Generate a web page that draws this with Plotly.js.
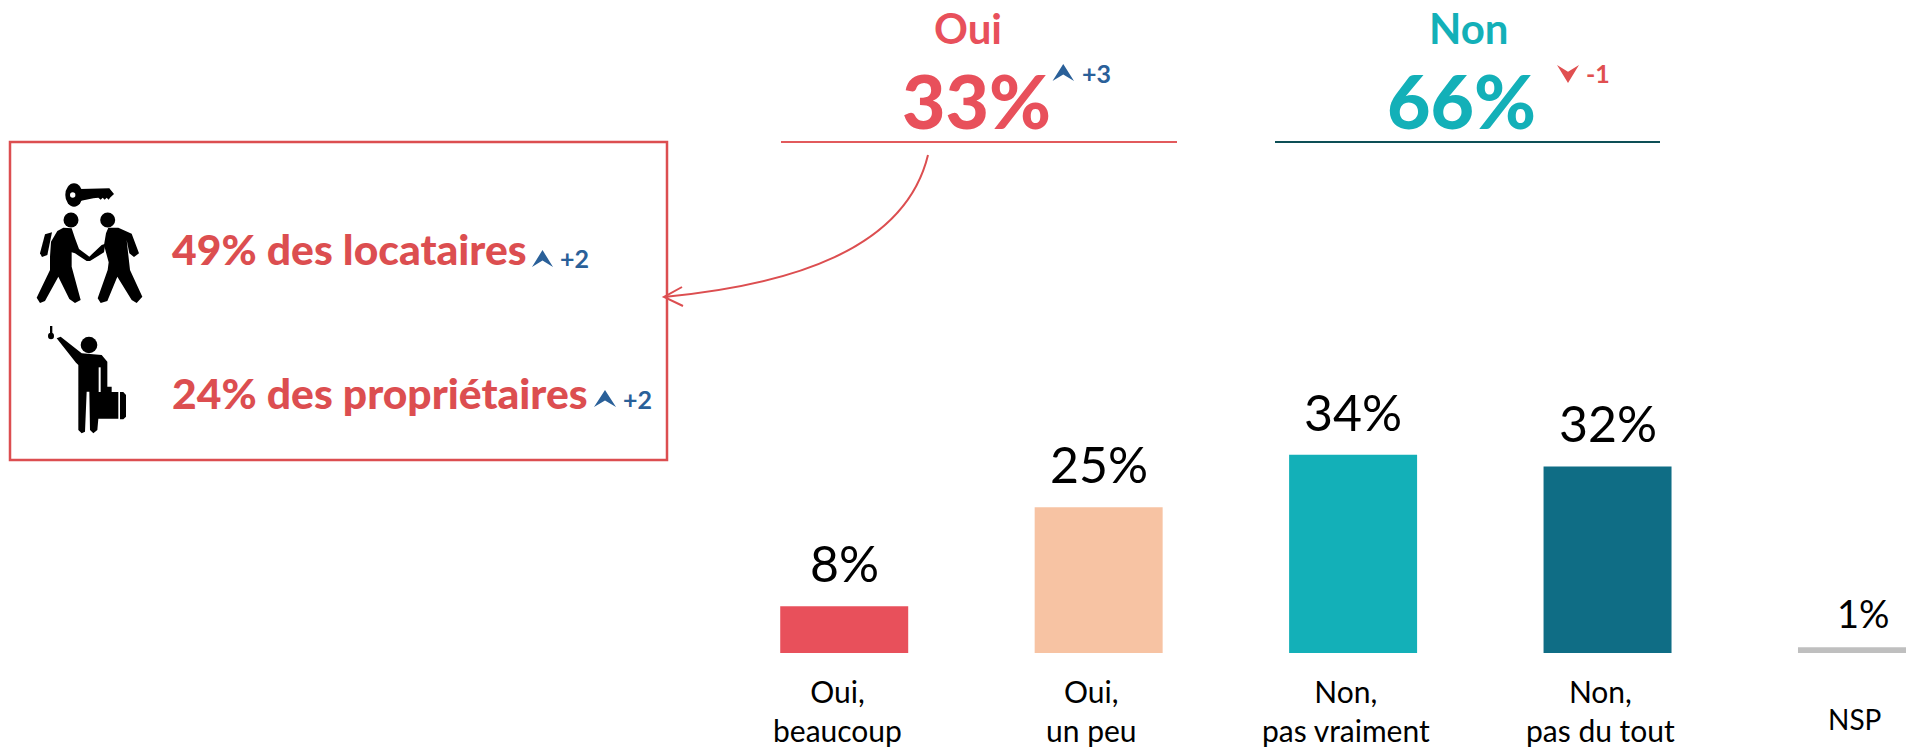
<!DOCTYPE html>
<html><head><meta charset="utf-8">
<script src="https://cdn.plot.ly/plotly-3.0.1.min.js"></script>
<style>html,body{margin:0;padding:0;background:#fff;overflow:hidden}#c{width:1906px;height:748px}</style>
</head><body><div id="c"></div>
<script>
const categories = ["Oui, beaucoup","Oui, un peu","Non, pas vraiment","Non, pas du tout","NSP"];
const categoryLabels = ["Oui,<br>beaucoup","Oui,<br>un peu","Non,<br>pas vraiment","Non,<br>pas du tout","NSP"];
const values = [8,25,34,32,1];
const valueLabels = ["8%","25%","34%","32%","1%"];
const barColors = ["#e8505b","#f7c3a3","#13b0b8","#0f6d85","#bfbfbf"];

const W=1906,H=748,L=717,BOT=653,PW=W-L;
const FONT="Lato, 'Open Sans', sans-serif";
const RED="#e8505b",TEAL="#13b0b8",BOXRED="#dc4e50",BLUE="#2a6099";
const px=x=>(x-L)/PW, py=y=>1-y/BOT;

// convert a path given in a local grid (origin ox,oy; grid scale s) to paper coordinates
function pth(d,ox,oy,s){
  return d.replace(/(-?[\d.]+)[ ,](-?[\d.]+)/g,(m,a,b)=>px(ox+a/s)+","+py(oy+b/s));
}
const shapes=[];
function fill(d,c,ox=0,oy=0,s=1){shapes.push({type:"path",xref:"paper",yref:"paper",path:pth(d,ox,oy,s),fillcolor:c,line:{width:0},layer:"above"});}
function stroke(d,c,w,ox=0,oy=0,s=1){shapes.push({type:"path",xref:"paper",yref:"paper",path:pth(d,ox,oy,s),fillcolor:"rgba(0,0,0,0)",line:{color:c,width:w},layer:"above"});}
function ell(cx,cy,rx,ry,c){shapes.push({type:"circle",xref:"paper",yref:"paper",x0:px(cx-rx),x1:px(cx+rx),y0:py(cy+ry),y1:py(cy-ry),fillcolor:c,line:{width:0},layer:"above"});}
function up(x0,x1,y0,y1,c){const m=(x0+x1)/2;fill(`M${m},${y0} L${x0},${y1} L${m},${y0+(y1-y0)*0.62} L${x1},${y1} Z`,c);}
function down(x0,x1,y0,y1,c){const m=(x0+x1)/2;fill(`M${m},${y1} L${x0},${y0} L${m},${y0+(y1-y0)*0.38} L${x1},${y0} Z`,c);}

// underlines, box, connector
stroke("M781,142 L1177,142","#e25a5c",2);
stroke("M1275,142 L1660,142","#0d4f56",2);
stroke("M10,142 L667,142 L667,460 L10,460 Z",BOXRED,2.5);
stroke("M928,155 C905,250 790,285 664,297",BOXRED,2);
stroke("M682,287 L664,297 L683,306",BOXRED,2);

// trend chevrons
up(1052.5,1074,64,81,BLUE);
down(1557,1579,65,83,"#e04f50");
up(532,553,250,267,BLUE);
up(594,616,390,407,BLUE);

// tenants icon
const a=[30,175,3];
ell(74,195,8.7,11.7,"#000");ell(72.7,195,2.7,2.7,"#fff");
fill("M150,42 L238,40 L252,57 L240,68 L236,74 L230,68 L224,74 L218,68 L212,74 L205,68 L190,70 L150,78 Z","#000",...a);
ell(71,220,7.5,7.5,"#000");ell(107.7,220,7.5,7.5,"#000");
fill("M100,158 L125,160 L135,190 L147,222 L178,245 L215,210 L226,206 L222,232 L180,258 L170,258 L135,235 L125,232 L125,275 L152,375 L135,384 L118,372 L85,305 L45,378 L30,384 L20,368 L60,285 L60,245 L63,200 L82,168 Z","#000",...a);
fill("M45,178 L66,172 L52,240 L36,246 L30,235 Z","#000",...a);
fill("M235,158 L265,158 L305,176 L327,235 L312,246 L298,235 L290,195 L300,285 L337,365 L320,384 L305,375 L262,305 L232,378 L212,384 L203,370 L233,285 L236,262 L222,210 L228,175 Z","#000",...a);

// owners icon
const b=[40,320,3];
ell(51,336,3,3.2,"#000");
fill("M30,18 L37,18 L37,42 L30,42 Z","#000",...b);
ell(89,345,8.3,8.3,"#000");
fill("M50,55 L62,50 L125,100 L185,105 L202,125 L202,200 L215,200 L215,216 L235,216 L235,296 L175,296 L172,330 L160,340 L150,330 L148,215 L140,215 L135,335 L125,340 L115,330 L115,135 L108,128 Z","#000",...b);
fill("M240,216 L250,216 L258,225 L258,290 L250,298 L240,298 Z","#000",...b);
fill("M176,142 L182,142 L182,216 L176,216 Z","#fff",...b);

const ann=[];
// text placed by its horizontal anchor and baseline pixel
function T(t,x,base,size,color,weight,anchor="center"){
  ann.push({text:t,xref:"paper",yref:"paper",x:px(x),y:py(base+size*0.24),xanchor:anchor,yanchor:"bottom",showarrow:false,font:{family:FONT,size,color,weight},borderpad:0});
}
T("Oui",968,44,42,RED,700);
T("Non",1469,44,42,TEAL,700);
T("33%",976,128,75,RED,900);
T("66%",1461,128,75,TEAL,900);
T("+3",1081,83,25,BLUE,700,"left");
T("-1",1585,83,25,"#e04f50",700,"left");
T("49% des locataires",170.5,265,42.6,BOXRED,900,"left");
T("+2",559,268,25,BLUE,700,"left");
T("24% des propriétaires",170.5,409,42.6,BOXRED,900,"left");
T("+2",622,409,25,BLUE,700,"left");

// value labels, anchored on the data
values.forEach((v,i)=>{
  ann.push({x:categories[i],y:v,xref:"x",yref:"y",yanchor:"bottom",yshift:i==4?10:12,xshift:i==4?2:0,showarrow:false,borderpad:0,
    text:valueLabels[i],font:{family:FONT,size:i==4?38:50,color:"#000"}});
});
// category labels
categories.forEach((c,i)=>{
  ann.push({x:c,y:0,xref:"x",yref:"y",yanchor:"top",yshift:i==4?-48:-19,xshift:-7,showarrow:false,borderpad:0,
    text:categoryLabels[i],font:{family:FONT,size:i==4?28:30,color:"#000"}});
});

Plotly.newPlot("c",[{type:"bar",x:categories,y:values,width:0.503,marker:{color:barColors,line:{width:0}},hoverinfo:"skip"}],{
  width:W,height:H,margin:{l:L,r:0,t:0,b:H-BOT,pad:0},paper_bgcolor:"#fff",plot_bgcolor:"rgba(0,0,0,0)",showlegend:false,
  xaxis:{type:"category",range:[-0.5,4.173],showgrid:false,zeroline:false,showline:false,showticklabels:false,ticks:""},
  yaxis:{range:[0,BOT/5.83],showgrid:false,zeroline:false,showline:false,showticklabels:false,ticks:""},
  shapes,annotations:ann
},{displayModeBar:false,staticPlot:true});
</script></body></html>
